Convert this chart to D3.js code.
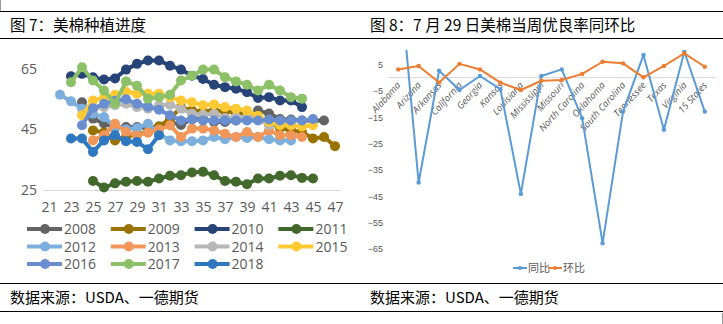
<!DOCTYPE html>
<html><head><meta charset="utf-8">
<script src="https://cdn.jsdelivr.net/npm/d3@7/dist/d3.min.js"></script>
<style>
html,body{margin:0;padding:0;background:#fff;}
svg{display:block;}
</style></head>
<body>
<svg id="c" width="723" height="324"></svg>
<script>
// ---------- DATA: left chart (weeks 21..47) ----------
const weeks = [21,22,23,24,25,26,27,28,29,30,31,32,33,34,35,36,37,38,39,40,41,42,43,44,45,46,47];
const xTickLabels = [21,23,25,27,29,31,33,35,37,39,41,43,45,47];
const yTickLabels = [25,45,65];
const years = ["2008","2009","2010","2011","2012","2013","2014","2015","2016","2017","2018"];
const _ = null;
const s2008 = [_,_,_,54.0,48.6,47.0,45.5,45.8,45.8,45.5,46.0,47.5,46.5,48.5,48.6,47.5,47.5,48.0,49.0,51.3,50.3,48.5,48.3,48.0,48.0,48.0,_];
const s2009 = [_,_,_,_,44.7,44.0,41.4,42.5,43.5,44.0,46.0,48.5,52.4,51.3,51.0,51.3,51.0,50.5,50.0,49.5,47.5,45.5,44.7,44.2,42.0,42.5,39.5];
const s2010 = [_,_,62.6,63.4,62.3,61.5,61.9,64.8,66.7,67.8,67.8,66.1,64.8,62.8,61.7,59.8,59.0,58.5,57.3,55.4,55.7,54.6,54.6,52.4,_,_,_];
const s2011 = [_,_,_,_,28.0,25.8,27.2,27.7,28.0,27.7,28.8,29.7,29.9,30.8,31.0,29.9,28.0,27.7,26.9,28.8,28.8,29.7,29.9,29.0,28.8,_,_];
const s2012 = [_,56.5,54.3,51.9,50.2,49.1,45.8,45.1,45.5,46.9,43.6,41.4,41.1,41.1,41.4,42.5,41.8,42.5,42.2,42.5,41.8,41.4,41.4,_,_,_,_];
const s2013 = [_,_,_,_,41.4,43.1,46.9,44.2,43.0,44.0,45.0,46.4,42.5,45.3,45.3,44.7,43.6,42.5,44.2,42.5,44.7,43.1,43.1,42.5,_,_,_];
const s2014 = [_,_,_,_,51.9,52.4,53.0,53.5,52.4,51.9,53.0,53.2,51.9,50.2,49.9,50.2,48.8,49.1,49.1,48.6,46.4,47.5,46.9,_,_,_,_];
const s2015 = [_,_,_,49.7,54.6,55.5,56.5,57.5,56.8,56.8,56.8,55.7,54.6,54.0,53.0,53.3,52.4,51.9,51.3,49.5,47.5,46.4,46.4,46.0,46.4,_,_];
const s2016 = [_,_,_,46.4,52.0,53.5,54.5,55.0,53.5,52.5,51.5,49.7,48.0,48.3,48.0,48.0,48.0,48.0,48.0,48.0,48.3,48.0,48.0,48.0,48.5,_,_];
const s2017 = [_,_,60.6,65.6,61.2,57.9,53.5,60.9,59.5,55.2,55.7,56.5,61.2,62.8,64.8,64.8,62.3,60.9,59.8,57.9,59.8,57.9,55.7,55.2,_,_,_];
const s2018 = [_,_,42.0,42.0,37.6,41.4,43.1,41.1,40.9,38.5,43.1,_,_,_,_,_,_,_,_,_,_,_,_,_,_,_,_];
const leftSeries = [s2008,s2009,s2010,s2011,s2012,s2013,s2014,s2015,s2016,s2017,s2018];
const leftColors = ["#636363","#997300","#264478","#43682b","#7cafdd","#f1975a","#b7b7b7","#ffc933","#698ed0","#8cc168","#2f78c0"];

// ---------- DATA: right chart ----------
const states = ["Alabama","Arizona","Arkansas","California","Georgia","Kansas","Louisiana","Mississippi","Missouri","North Carolina","Oklahoma","South Carolina","Tennessee","Texas","Virginia","15 States"];
const yoy = [44, -39.8, 2.6, -4.7, 0.6, -4.4, -44.1, 0.6, 3.1, -15.4, -62.8, -12.9, 8.6, -19.8, 9.8, -12.9];
const mom = [3.1, 4.4, -1.9, 5.2, 3.1, -1.9, -4.7, -1.2, -0.9, 1.4, 6.0, 5.4, 0.1, 4.4, 9.2, 4.1];
const rightTicks = [5,-5,-15,-25,-35,-45,-55,-65];
const rightNames = ["同比","环比"];
const rightColors = ["#5b9bd5","#ed7d31"];

const svg = d3.select("#c");
const cjk = "'Noto Sans CJK SC','Noto Sans',sans-serif";
const latin = "'Open Sans','Noto Sans','DejaVu Sans',sans-serif";

// ---------- frame lines & titles ----------
svg.append("line").attr("x1",0).attr("x2",723).attr("y1",11.5).attr("y2",11.5).attr("stroke","#000").attr("stroke-width",1.2);
svg.append("line").attr("x1",0).attr("x2",723).attr("y1",38.5).attr("y2",38.5).attr("stroke","#000").attr("stroke-width",1.2);
svg.append("line").attr("x1",0).attr("x2",723).attr("y1",283.5).attr("y2",283.5).attr("stroke","#000").attr("stroke-width",1.2);
svg.append("line").attr("x1",0).attr("x2",723).attr("y1",311.5).attr("y2",311.5).attr("stroke","#000").attr("stroke-width",1.2);
svg.append("line").attr("x1",0.5).attr("x2",0.5).attr("y1",0).attr("y2",11).attr("stroke","#999");
svg.append("line").attr("x1",722.5).attr("x2",722.5).attr("y1",313).attr("y2",324).attr("stroke","#999");

svg.append("text").attr("x",10).attr("y",31).attr("font-family",cjk).attr("font-size",15.5).attr("fill","#000").text("图 7：美棉种植进度");
svg.append("text").attr("x",370).attr("y",31).attr("font-family",cjk).attr("font-size",15.5).attr("fill","#000").text("图 8：7 月 29 日美棉当周优良率同环比");
svg.append("text").attr("x",10).attr("y",303).attr("font-family",cjk).attr("font-size",15).attr("fill","#000").text("数据来源：USDA、一德期货");
svg.append("text").attr("x",370).attr("y",303).attr("font-family",cjk).attr("font-size",15).attr("fill","#000").text("数据来源：USDA、一德期货");

// ---------- left chart ----------
const xL = d3.scaleLinear().domain([21,47]).range([49,335]);
const yL = d3.scaleLinear().domain([25,65]).range([190,69]);

svg.append("line").attr("x1",43).attr("x2",341).attr("y1",yL(25)+0.5).attr("y2",yL(25)+0.5).attr("stroke","#d9d9d9");

const gy = svg.append("g").attr("transform","translate(37,0)")
  .call(d3.axisLeft(yL).tickValues(yTickLabels).tickSize(0).tickPadding(0));
gy.select(".domain").remove();
gy.selectAll("text").attr("font-family",latin).attr("font-size",14).attr("fill","#595959");

const gx = svg.append("g").attr("transform","translate(0,202)")
  .call(d3.axisBottom(xL).tickValues(xTickLabels).tickSize(0).tickPadding(0));
gx.select(".domain").remove();
gx.selectAll("text").attr("font-family",latin).attr("font-size",14).attr("fill","#595959");

const lineL = d3.line().defined(d=>d.v!==null).x(d=>xL(d.w)).y(d=>yL(d.v));
leftSeries.forEach((s,i)=>{
  const pts = weeks.map((w,j)=>({w:w,v:s[j]}));
  const g = svg.append("g");
  g.append("path").datum(pts).attr("d",lineL).attr("fill","none")
    .attr("stroke",leftColors[i]).attr("stroke-width",4).attr("stroke-linejoin","round");
  g.selectAll("circle").data(pts.filter(d=>d.v!==null)).join("circle")
    .attr("cx",d=>xL(d.w)).attr("cy",d=>yL(d.v)).attr("r",5).attr("fill",leftColors[i]);
});

// legend left
const leg = svg.append("g");
years.forEach((yr,i)=>{
  const col = i%4, row = Math.floor(i/4);
  const x0 = 27 + col*83.8, yy = 229 + row*17.5;
  leg.append("line").attr("x1",x0).attr("x2",x0+35).attr("y1",yy).attr("y2",yy)
    .attr("stroke",leftColors[i]).attr("stroke-width",4);
  leg.append("circle").attr("cx",x0+18).attr("cy",yy).attr("r",5).attr("fill",leftColors[i]);
  leg.append("text").attr("x",x0+37).attr("y",yy+5).attr("font-family",latin)
    .attr("font-size",14).attr("fill","#595959").text(yr);
});

// ---------- right chart ----------
const xR = d3.scaleBand().domain(states).range([388,715]).padding(0);
const yR = d3.scaleLinear().domain([-65,5]).range([249,64.4]);
const cx = s => xR(s)+xR.bandwidth()/2;

svg.append("defs").append("clipPath").attr("id","rclip")
  .append("rect").attr("x",385).attr("y",50).attr("width",335).attr("height",215);

svg.append("line").attr("x1",388).attr("x2",715).attr("y1",yR(0)).attr("y2",yR(0)).attr("stroke","#d9d9d9").attr("stroke-width",1);

const gyR = svg.append("g").attr("transform","translate(383,0)")
  .call(d3.axisLeft(yR).tickValues(rightTicks).tickSize(0).tickPadding(0));
gyR.select(".domain").remove();
gyR.selectAll("text").attr("font-family","'Liberation Sans Narrow','Liberation Sans',sans-serif").attr("font-size",9).attr("fill","#595959");

const gxR = svg.append("g");
states.forEach(s=>{
  gxR.append("text").attr("text-anchor","end")
    .attr("transform",`translate(${cx(s)+3},${yR(0)+8}) rotate(-48)`)
    .attr("font-family",latin).attr("font-size",9.5).attr("font-style","italic").attr("fill","#595959").text(s);
});

const lineR = d3.line().x((d,i)=>cx(states[i])).y(d=>yR(d));
[yoy,mom].forEach((ser,k)=>{
  const g = svg.append("g").attr("clip-path","url(#rclip)");
  g.append("path").datum(ser).attr("d",lineR).attr("fill","none")
    .attr("stroke",rightColors[k]).attr("stroke-width",2).attr("stroke-linejoin","round");
  g.selectAll("circle").data(ser).join("circle")
    .attr("cx",(d,i)=>cx(states[i])).attr("cy",d=>yR(d)).attr("r",2.2).attr("fill",rightColors[k]);
});

// right legend
rightNames.forEach((n,k)=>{
  const x0 = 513 + k*35, yy = 268;
  svg.append("line").attr("x1",x0).attr("x2",x0+14).attr("y1",yy).attr("y2",yy).attr("stroke",rightColors[k]).attr("stroke-width",2);
  svg.append("circle").attr("cx",x0+7).attr("cy",yy).attr("r",2).attr("fill",rightColors[k]);
  svg.append("text").attr("x",x0+15).attr("y",yy+4).attr("font-family",cjk).attr("font-size",11).attr("fill","#595959").text(n);
});
</script>
</body></html>
